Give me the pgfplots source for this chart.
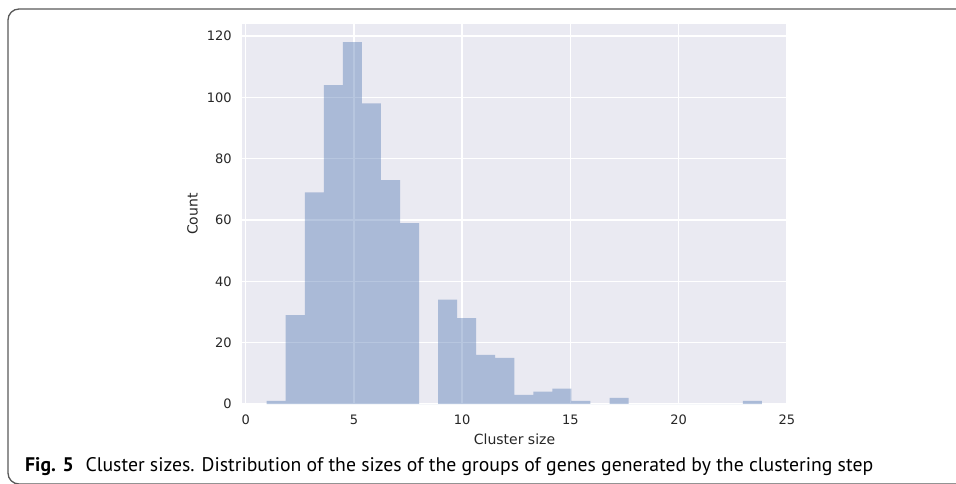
\documentclass[border=0pt]{standalone}
\usepackage{fontspec}
\setmainfont{DejaVu Sans}
\newfontfamily\capfont{PT Sans}
\usepackage{pgfplots}
\pgfplotsset{compat=1.18}
\definecolor{sbbg}{HTML}{EAEAF2}
\definecolor{sbblue}{HTML}{4C72B0}
\begin{document}
\begin{tikzpicture}[x=1pt,y=1pt]
\path[use as bounding box] (0,0) rectangle (956,483);
\draw[color=black!65, line width=1.3pt, rounded corners=11pt] (975,474) -- (8,474) -- (8,-1) -- (975,-1);
\begin{axis}[
 at={(242pt,79pt)}, anchor=south west,
 scale only axis, width=545pt, height=380pt,
 xmin=-0.17, xmax=25.01, ymin=0, ymax=123.9,
 axis background/.style={fill=sbbg},
 axis line style={draw=none},
 major tick length=0pt,
 xtick={0,5,...,25}, ytick={0,20,...,120},
 grid=major, grid style={white, line width=1.3pt},
 tick label style={font=\fontsize{13}{15}\selectfont, text=black!85},
 /pgf/number format/assume math mode=true,
 xlabel={Cluster size}, ylabel={Count},
 label style={font=\fontsize{14}{16}\selectfont, text=black!85},
 xticklabel style={yshift=-7pt},
 yticklabel style={xshift=-6.7pt},
 xlabel style={at={(axis description cs:0.5,0)}, anchor=base, yshift=-40pt},
 ylabel style={at={(axis description cs:0,0.5)}, anchor=center, yshift=49.5pt},
]
\addplot[ybar interval, fill=sbblue, fill opacity=0.4, draw=none] coordinates {
(0.97,1) (1.85,29) (2.73,69) (3.61,104) (4.49,118) (5.37,98) (6.25,73) (7.13,59)
(8.01,0) (8.89,34) (9.77,28) (10.65,16) (11.53,15) (12.41,3) (13.29,4) (14.17,5)
(15.05,1) (15.93,0) (16.81,2) (17.69,0) (18.57,0) (19.45,0) (20.33,0) (21.21,0)
(22.09,0) (22.97,1) (23.85,1)
};
\end{axis}
\node[anchor=base west, inner sep=0] at (25,11.3) {\resizebox{848pt}{14pt}{\capfont\textbf{Fig. 5}\hspace{0.6em}Cluster sizes. Distribution of the sizes of the groups of genes generated by the clustering step}};
\end{tikzpicture}
\end{document}
